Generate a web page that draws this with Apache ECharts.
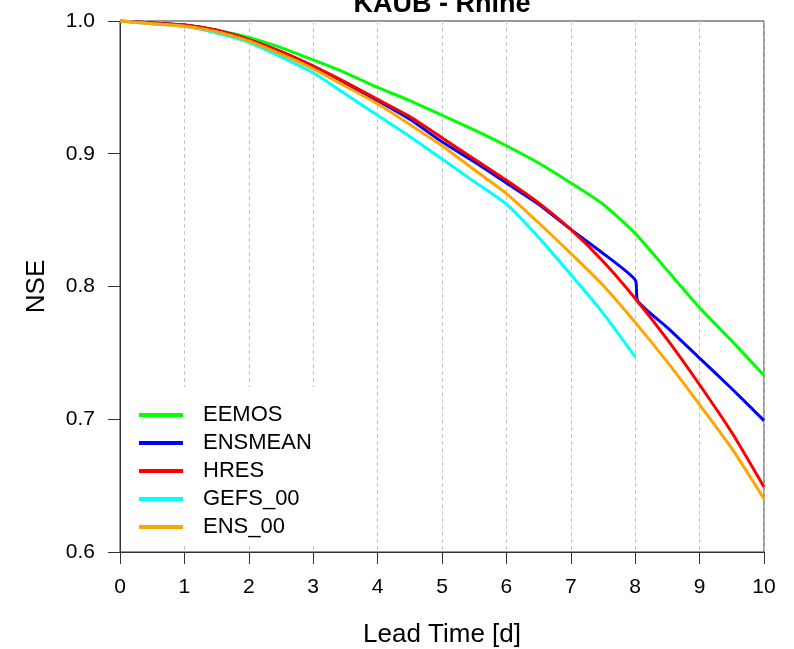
<!DOCTYPE html>
<html>
<head>
<meta charset="utf-8">
<script src="https://cdn.jsdelivr.net/npm/echarts@6/dist/echarts.min.js"></script>
<style>
  html, body { margin: 0; padding: 0; background: #fff; }
  #chart { width: 794px; height: 649px; }
</style>
</head>
<body>
<div id="chart"></div>
<script>
// lead time in days
let days = [0, 0.5, 1, 1.5, 2, 2.5, 3, 3.5, 4, 4.5, 5, 5.5, 6, 6.5, 7, 7.5, 8, 8.5, 9, 9.5, 10];
let daysMean = [0, 0.5, 1, 1.5, 2, 2.5, 3, 3.5, 4, 4.5, 5, 5.5, 6, 6.5, 7, 7.5, 8, 8.04, 8.5, 9, 9.5, 10];
let daysGefs = [0, 0.5, 1, 1.5, 2, 2.5, 3, 3.5, 4, 4.5, 5, 5.5, 6, 6.5, 7, 7.5, 8];

// NSE values
let eemos = [1.0, 0.9985, 0.997, 0.993, 0.9877, 0.980, 0.9707, 0.961, 0.950, 0.940, 0.929, 0.918, 0.906, 0.893, 0.878, 0.862, 0.840, 0.812, 0.784, 0.759, 0.733];
let ensmean = [1.0, 0.9985, 0.997, 0.993, 0.986, 0.977, 0.966, 0.953, 0.940, 0.926, 0.909, 0.894, 0.878, 0.862, 0.843, 0.825, 0.805, 0.789, 0.769, 0.746, 0.723, 0.699];
let hres = [1.0, 0.9985, 0.997, 0.993, 0.986, 0.977, 0.966, 0.954, 0.941, 0.928, 0.912, 0.896, 0.880, 0.863, 0.843, 0.819, 0.791, 0.760, 0.726, 0.690, 0.649];
let gefs = [1.0, 0.998, 0.996, 0.991, 0.984, 0.973, 0.961, 0.945, 0.929, 0.913, 0.896, 0.879, 0.862, 0.837, 0.809, 0.780, 0.747];
let ens00 = [1.0, 0.998, 0.996, 0.992, 0.985, 0.975, 0.964, 0.951, 0.9376, 0.922, 0.906, 0.888, 0.870, 0.848, 0.825, 0.801, 0.773, 0.743, 0.711, 0.678, 0.640];

let names = ['EEMOS', 'ENSMEAN', 'HRES', 'GEFS_00', 'ENS_00'];
let colors = ['#00ff00', '#0000ff', '#ff0000', '#00ffff', '#ffa500'];
let yTicks = [0.6, 0.7, 0.8, 0.9, 1.0];

function pairs(xs, ys) {
  return xs.map((x, i) => [x, ys[i]]);
}

let seriesData = [
  pairs(days, eemos),
  pairs(daysMean, ensmean),
  pairs(days, hres),
  pairs(daysGefs, gefs),
  pairs(days, ens00)
];

let chart = echarts.init(document.getElementById('chart'));

let option = {
  animation: false,
  backgroundColor: '#fff',
  color: colors,
  grid: {
    left: 120, right: 30, top: 21, bottom: 97,
    containLabel: false,
    outerBoundsMode: 'none',
    show: true,
    borderColor: '#333',
    borderWidth: 1
  },
  graphic: [{
    type: 'text',
    x: 442,
    y: 18,
    style: {
      text: 'KAUB - Rhine',
      fontFamily: 'Liberation Sans, Arial, sans-serif',
      fontSize: 27,
      fontWeight: 'bold',
      fill: '#000',
      align: 'center',
      verticalAlign: 'bottom'
    }
  }],
  legend: {
    data: names,
    orient: 'vertical',
    left: 121,
    top: 387,
    padding: [16, 20, 4, 18],
    backgroundColor: '#fff',
    icon: 'rect',
    itemWidth: 44,
    itemHeight: 4,
    itemGap: 4,
    selectedMode: false,
    textStyle: {
      fontFamily: 'Liberation Sans, Arial, sans-serif',
      fontSize: 22,
      lineHeight: 24,
      color: '#000',
      padding: [0, 0, 0, 15]
    }
  },
  xAxis: {
    type: 'value',
    min: 0,
    max: 10,
    interval: 1,
    name: 'Lead Time [d]',
    nameLocation: 'middle',
    nameGap: 70,
    nameTextStyle: { fontFamily: 'Liberation Sans, Arial, sans-serif', fontSize: 26, color: '#000' },
    axisLine: { show: true, onZero: false, lineStyle: { color: '#333', width: 1 } },
    axisTick: { show: true, inside: false, length: 12, lineStyle: { color: '#333' } },
    axisLabel: { margin: 25, fontFamily: 'Liberation Sans, Arial, sans-serif', fontSize: 21, color: '#000' },
    splitLine: { show: true, lineStyle: { color: '#c4c4c4', type: [4, 3], width: 1 } }
  },
  yAxis: {
    type: 'value',
    min: 0.6,
    max: 1.0,
    interval: 0.1,
    name: 'NSE',
    nameLocation: 'middle',
    nameGap: 70,
    nameTextStyle: { fontFamily: 'Liberation Sans, Arial, sans-serif', fontSize: 26, color: '#000' },
    axisLine: { show: true, onZero: false, lineStyle: { color: '#333', width: 1 } },
    axisTick: { show: true, inside: false, length: 12, lineStyle: { color: '#333' } },
    axisLabel: {
      margin: 25,
      fontFamily: 'Liberation Sans, Arial, sans-serif',
      fontSize: 21,
      color: '#000',
      formatter: (v) => {
        let t = yTicks.find(k => Math.abs(k - v) < 1e-6);
        return t === undefined ? '' : t.toFixed(1);
      }
    },
    splitLine: { show: false }
  },
  series: names.map((n, i) => ({
    name: n,
    type: 'line',
    data: seriesData[i],
    showSymbol: false,
    symbol: 'none',
    smooth: 0.2,
    lineStyle: { width: 3, color: colors[i] },
    itemStyle: { color: colors[i] },
    z: 2 + i
  }))
};

chart.setOption(option);
</script>
</body>
</html>
